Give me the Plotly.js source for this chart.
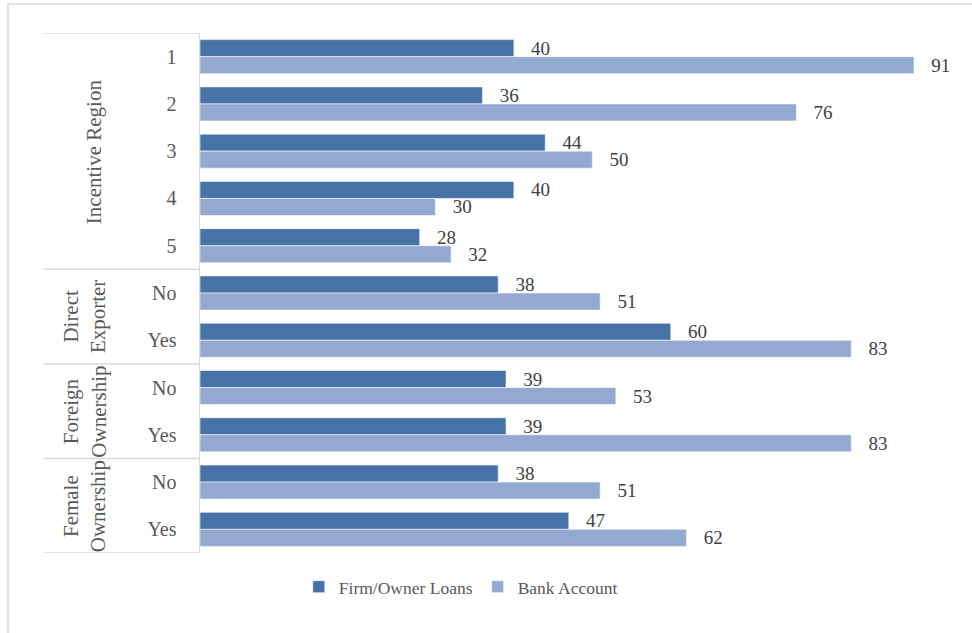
<!DOCTYPE html>
<html>
<head>
<meta charset="utf-8">
<script src="https://cdn.plot.ly/plotly-3.0.1.min.js"></script>
<style>html,body{margin:0;padding:0;background:#fff;}#chart{width:972px;height:633px;}</style>
</head>
<body>
<div id="chart"></div>
<script>
// Data
const categoryKeys = ['IR1','IR2','IR3','IR4','IR5','DE_No','DE_Yes','FO_No','FO_Yes','FF_No','FF_Yes'];
const categoryLabels = ['1','2','3','4','5','No','Yes','No','Yes','No','Yes'];
const groupNames = ['Incentive Region','Direct<br>Exporter','Foreign<br>Ownership','Female<br>Ownership'];
const groupStart = [0,5,7,9];
const groupEnd = [4,6,8,10];
const firmOwnerLoans = [40,36,44,40,28,38,60,39,39,38,47];
const bankAccount = [91,76,50,30,32,51,83,53,83,51,62];
const seriesNames = ['Firm/Owner Loans','Bank Account'];

const darkBlue = '#4672A6';
const lightBlue = '#94A9D0';
const serif = 'Liberation Serif, Times New Roman, serif';
const gridGray = '#d9d9d9';

const labelTpl = '\u00a0\u00a0\u00a0%{x}';
const traces = [
  {type:'bar', orientation:'h', name:seriesNames[0], y:categoryKeys, x:firmOwnerLoans,
   marker:{color:darkBlue, line:{color:'rgba(255,255,255,0.7)', width:0.8}},
   text:firmOwnerLoans, texttemplate:labelTpl, textposition:'outside', cliponaxis:false,
   constraintext:'none', textfont:{family:serif, size:19, color:'#404040'}, hoverinfo:'x+name'},
  {type:'bar', orientation:'h', name:seriesNames[1], y:categoryKeys, x:bankAccount,
   marker:{color:lightBlue, line:{color:'rgba(255,255,255,0.7)', width:0.8}},
   text:bankAccount, texttemplate:labelTpl, textposition:'outside', cliponaxis:false,
   constraintext:'none', textfont:{family:serif, size:19, color:'#404040'}, hoverinfo:'x+name'}
];

const shapes = [];
// outer chart border (top & left visible)
shapes.push({type:'rect', xref:'paper', yref:'paper', x0:-0.2526, x1:1.03, y0:-0.2, y1:1.0558,
  line:{color:gridGray, width:1.5}, fillcolor:'rgba(0,0,0,0)', layer:'below'});
// group separators
const seps = [-0.5];
groupEnd.forEach(e => seps.push(e + 0.5));
seps.forEach(v => shapes.push({type:'line', xref:'paper', yref:'y', x0:-0.2053, x1:-0.001, y0:v, y1:v,
  line:{color:gridGray, width:1.5}}));

const annotations = groupNames.map((g,i) => ({
  xref:'paper', yref:'y', x:(i===0 ? -0.1395 : -0.152), y:(groupStart[i]+groupEnd[i])/2,
  text:g, showarrow:false, textangle:-90, xanchor:'center', yanchor:'middle',
  font:{family:serif, size:21, color:'#595959'}
}));

const layout = {
  width:972, height:633,
  margin:{l:200, r:12, t:33, b:80, pad:0},
  paper_bgcolor:'#ffffff', plot_bgcolor:'#ffffff',
  barmode:'group', bargap:0.28, bargroupgap:0,
  font:{family:serif, size:18, color:'#595959'},
  xaxis:{range:[0,96.86], showgrid:false, zeroline:false, showticklabels:false, showline:false, ticks:''},
  yaxis:{type:'category', range:[10.5,-0.5], tickmode:'array', tickvals:categoryKeys, ticktext:categoryLabels,
    showgrid:false, zeroline:false, showline:true, linecolor:gridGray, linewidth:1.5, ticks:'', ticklen:0,
    tickfont:{family:serif, size:20, color:'#595959'}, automargin:false, ticklabelstandoff:18},
  showlegend:true,
  legend:{orientation:'h', x:0.13, xanchor:'left', y:-0.065, yanchor:'middle',
    font:{family:serif, size:17.5, color:'#595959'}, itemwidth:30, traceorder:'normal',
    bgcolor:'rgba(0,0,0,0)', itemclick:false},
  shapes:shapes,
  annotations:annotations
};

Plotly.newPlot('chart', traces, layout, {displayModeBar:false, staticPlot:true});
</script>
</body>
</html>
